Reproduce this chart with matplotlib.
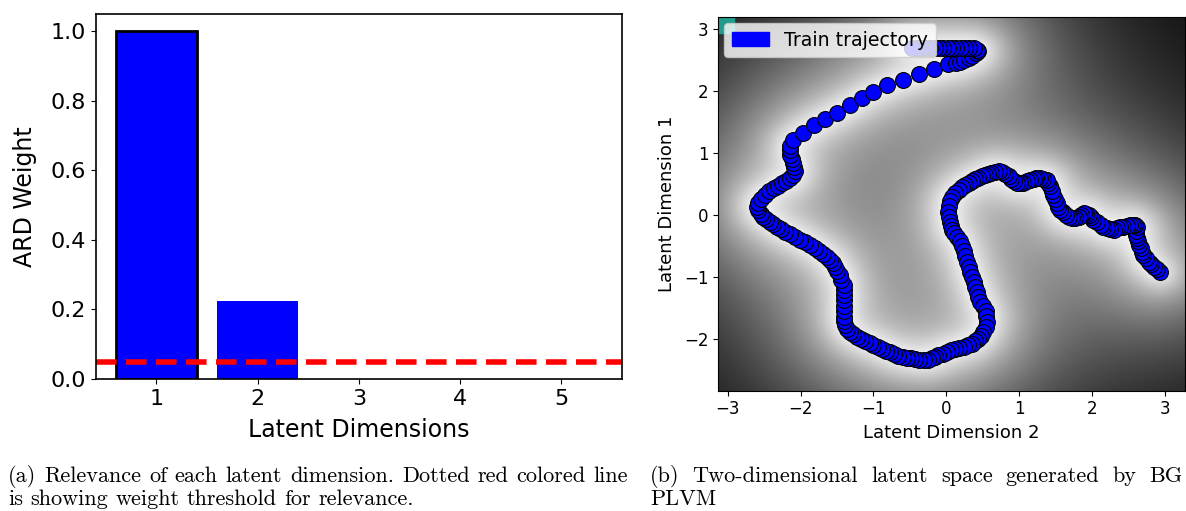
import numpy as np
import matplotlib
matplotlib.use("Agg")
import matplotlib.pyplot as plt
import matplotlib.patches as mpatches

# ---- data: ARD weights ----
dims = [1, 2, 3, 4, 5]
ard_weights = [1.0, 0.225, 0.0, 0.0, 0.0]
threshold = 0.05

# ---- data: latent trajectory (in plotting order) ----
traj_x = [2.93, 2.89, 2.85, 2.81, 2.78, 2.74, 2.71, 2.69, 2.67, 2.65, 2.63, 2.62, 2.61, 2.61, 2.62,
          2.60, 2.57, 2.52, 2.48, 2.43, 2.39, 2.34, 2.30, 2.25, 2.21, 2.16, 2.12, 2.07, 2.02, 1.99,
          1.96, 1.92, 1.89, 1.85, 1.82, 1.77, 1.73, 1.68, 1.64, 1.60, 1.57, 1.54, 1.52, 1.49, 1.47,
          1.45, 1.43, 1.40, 1.38, 1.33, 1.29, 1.24, 1.20, 1.15, 1.11, 1.06, 1.02, 0.97, 0.93, 0.89,
          0.86, 0.81, 0.77, 0.72, 0.67, 0.62, 0.58, 0.53, 0.49, 0.44, 0.40, 0.35, 0.31, 0.26, 0.22,
          0.17, 0.12, 0.08, 0.05, 0.04, 0.03, 0.04, 0.05, 0.06, 0.08, 0.11, 0.15, 0.19, 0.22, 0.24,
          0.26, 0.29, 0.31, 0.33, 0.35, 0.38, 0.40, 0.42, 0.44, 0.47, 0.50, 0.54, 0.55, 0.56, 0.54,
          0.51, 0.48, 0.44, 0.40, 0.35, 0.30, 0.24, 0.18, 0.12, 0.07, 0.01, -0.05, -0.11, -0.15, -0.20,
          -0.25, -0.31, -0.37, -0.43, -0.48, -0.54, -0.60, -0.66, -0.71, -0.77, -0.83, -0.88, -0.94, -1.00, -1.05,
          -1.11, -1.17, -1.23, -1.28, -1.32, -1.36, -1.39, -1.40, -1.41, -1.41, -1.41, -1.40, -1.40, -1.41, -1.41,
          -1.44, -1.46, -1.50, -1.53, -1.56, -1.59, -1.64, -1.69, -1.75, -1.80, -1.87, -1.94, -2.01, -2.08, -2.15,
          -2.21, -2.27, -2.33, -2.38, -2.42, -2.47, -2.51, -2.55, -2.58, -2.60, -2.59, -2.55, -2.49, -2.43, -2.37,
          -2.31, -2.26, -2.20, -2.14, -2.10, -2.08, -2.09, -2.10, -2.12, -2.14, -2.14, -2.14, -2.10, -1.97, -1.82,
          -1.66, -1.50, -1.32, -1.16, -1.00, -0.81, -0.60, -0.38, -0.17, 0.03, 0.13, 0.19, 0.25, 0.31, 0.36,
          0.41, 0.44, 0.43, 0.38, 0.32, 0.26, 0.20, 0.14, 0.08, 0.02, -0.04, -0.10, -0.16, -0.22, -0.28,
          -0.34, -0.40, -0.47]
traj_y = [-0.92, -0.88, -0.84, -0.80, -0.76, -0.70, -0.65, -0.60, -0.54, -0.48, -0.43, -0.37, -0.32, -0.26, -0.20,
          -0.17, -0.16, -0.17, -0.18, -0.19, -0.20, -0.22, -0.24, -0.23, -0.22, -0.19, -0.16, -0.12, -0.08, -0.04,
          0.00, 0.02, 0.03, 0.00, -0.03, -0.05, -0.05, -0.03, 0.00, 0.04, 0.08, 0.13, 0.19, 0.25, 0.32,
          0.39, 0.46, 0.52, 0.56, 0.58, 0.59, 0.59, 0.58, 0.56, 0.54, 0.52, 0.51, 0.52, 0.54, 0.58,
          0.62, 0.66, 0.69, 0.70, 0.69, 0.68, 0.66, 0.64, 0.62, 0.60, 0.58, 0.55, 0.51, 0.48, 0.45,
          0.40, 0.35, 0.29, 0.22, 0.14, 0.05, -0.03, -0.11, -0.18, -0.24, -0.30, -0.35, -0.43, -0.51, -0.59,
          -0.67, -0.76, -0.84, -0.92, -1.00, -1.08, -1.16, -1.24, -1.32, -1.40, -1.48, -1.56, -1.64, -1.73, -1.81,
          -1.89, -1.95, -2.00, -2.04, -2.08, -2.11, -2.13, -2.15, -2.17, -2.19, -2.21, -2.24, -2.27, -2.30, -2.32,
          -2.34, -2.35, -2.34, -2.33, -2.32, -2.31, -2.30, -2.28, -2.25, -2.22, -2.20, -2.17, -2.13, -2.10, -2.07,
          -2.04, -2.01, -1.97, -1.93, -1.89, -1.84, -1.78, -1.71, -1.65, -1.56, -1.48, -1.38, -1.29, -1.21, -1.13,
          -1.05, -0.97, -0.90, -0.84, -0.78, -0.73, -0.68, -0.64, -0.59, -0.54, -0.49, -0.44, -0.40, -0.35, -0.31,
          -0.27, -0.23, -0.19, -0.15, -0.11, -0.07, -0.03, 0.02, 0.08, 0.13, 0.19, 0.26, 0.32, 0.38, 0.43,
          0.47, 0.51, 0.55, 0.59, 0.65, 0.70, 0.77, 0.84, 0.90, 0.97, 1.04, 1.11, 1.21, 1.32, 1.45,
          1.55, 1.65, 1.77, 1.88, 1.99, 2.09, 2.18, 2.27, 2.35, 2.43, 2.45, 2.47, 2.50, 2.53, 2.57,
          2.61, 2.64, 2.67, 2.69, 2.70, 2.70, 2.70, 2.70, 2.70, 2.70, 2.70, 2.70, 2.70, 2.70, 2.70,
          2.70, 2.70, 2.70]

caption_a = ["(a) Relevance of each latent dimension. Dotted red colored line",
             "is showing weight threshold for relevance."]
caption_b = ["(b) Two-dimensional latent space generated by BG", "PLVM"]

W, H = 1186, 511
fig = plt.figure(figsize=(W / 100, H / 100), dpi=100)

# ---------------- left: ARD weights ----------------
ax1 = fig.add_axes([95.7 / W, 1 - 379 / H, 526.3 / W, 365 / H])
ax1.bar(dims, ard_weights, width=0.8, color="blue",
        edgecolor=["black", "blue", "blue", "blue", "blue"],
        linewidth=[2.0, 0, 0, 0, 0])
ax1.axhline(threshold, color="red", linestyle="--", linewidth=4, dashes=(3.7, 1.7))
ax1.set_xlim(0.4, 5.6)
ax1.set_ylim(0, 1.05)
ax1.set_xticks(dims)
ax1.tick_params(labelsize=16)
ax1.set_xlabel("Latent Dimensions", fontsize=17, labelpad=7)
ax1.set_ylabel("ARD Weight", fontsize=17, labelpad=10)
for s in ax1.spines.values():
    s.set_linewidth(1.2)

# ---------------- right: latent space ----------------
ax2 = fig.add_axes([718.3 / W, 1 - 390.7 / H, 466.7 / W, 373.4 / H])
xlim = (-3.13, 3.28)
ylim = (-2.84, 3.19)

# background: GP posterior variance over the latent space
X = np.column_stack([traj_x, traj_y])
gx = np.linspace(xlim[0], xlim[1], 240)
gy = np.linspace(ylim[0], ylim[1], 220)
GX, GY = np.meshgrid(gx, gy)
G = np.column_stack([GX.ravel(), GY.ravel()])


def gp_var(kern, noise):
    K = kern(X, X) + noise * np.eye(len(X))
    Ks = kern(G, X)
    v = 1 - np.sum(Ks * np.linalg.solve(K, Ks.T).T, axis=1)
    return np.clip(v, 0, 1)


def dist(a, b):
    return np.sqrt(((a[:, None, :] - b[None, :, :]) ** 2).sum(-1))


def rbf_small(a, b):
    return np.exp(-0.5 * dist(a, b) ** 2 / 0.3 ** 2)


def expo(a, b):
    return np.exp(-dist(a, b) / 2.2)


var = 0.08 * gp_var(rbf_small, 0.02) + 0.92 * gp_var(expo, 0.01)
bright = np.clip(1 - var, 0, 1).reshape(GX.shape)

ax2.imshow(bright, cmap="gray", vmin=0, vmax=1, origin="lower",
           extent=[xlim[0], xlim[1], ylim[0], ylim[1]], aspect="auto",
           interpolation="bilinear")
ax2.add_patch(mpatches.Rectangle((0, 0.957), 0.034, 0.043, transform=ax2.transAxes,
                                 color="#229a8c", zorder=2))
ax2.scatter(traj_x, traj_y, s=130, c="blue", edgecolors="black", linewidths=0.8, zorder=3)
ax2.set_xlim(*xlim)
ax2.set_ylim(*ylim)
ax2.tick_params(labelsize=12)
ax2.set_xlabel("Latent Dimension 2", fontsize=13)
ax2.set_ylabel("Latent Dimension 1", fontsize=13, labelpad=6)
ax2.legend(handles=[mpatches.Patch(color="blue", label="Train trajectory")],
           loc="upper left", fontsize=13.6, borderaxespad=0.3)

# ---------------- captions (justified like the paper) ----------------
renderer = fig.canvas.get_renderer()
cap_font = dict(family="cmr10", fontsize=16, color="black")


def put_line(text, x0, x1, y, justify):
    words = text.split(" ")
    arts = [fig.text(0, y, w, va="baseline", ha="left", **cap_font) for w in words]
    widths = [a.get_window_extent(renderer).width for a in arts]
    space = arts[0].get_fontsize() * 100 / 72 * 0.333
    if justify and len(words) > 1:
        space = (x1 - x0 - sum(widths)) / (len(words) - 1)
    x = x0
    for a, w in zip(arts, widths):
        a.set_x(x / W)
        x += w + space


put_line(caption_a[0], 8, 628, 1 - 482 / H, True)
put_line(caption_a[1], 8, 628, 1 - 505 / H, False)
put_line(caption_b[0], 650, 1183, 1 - 482 / H, True)
put_line(caption_b[1], 650, 1183, 1 - 505 / H, False)

fig.savefig("out.png", dpi=100)
